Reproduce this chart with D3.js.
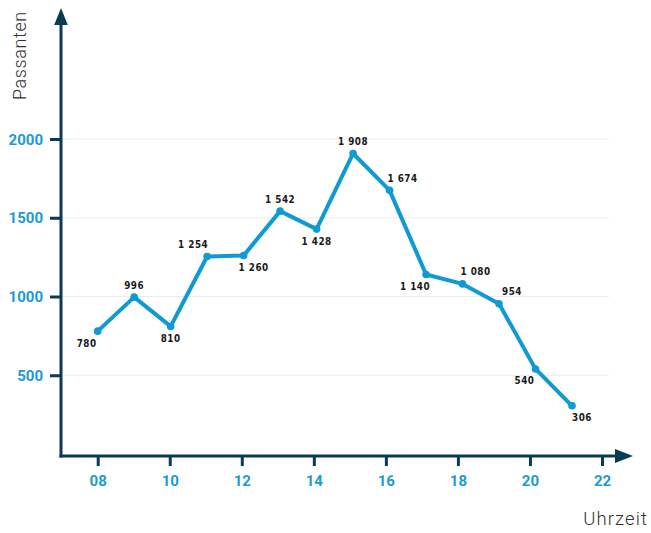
<!DOCTYPE html>
<html>
<head>
<meta charset="utf-8">
<script src="https://cdn.jsdelivr.net/npm/d3@7"></script>
<style>
  html, body { margin: 0; padding: 0; background: #fff; }
  svg { display: block; }
</style>
</head>
<body>
<div id="chart"></div>
<script>
// ---- data ----
const hours = [8, 9, 10, 11, 12, 13, 14, 15, 16, 17, 18, 19, 20, 21];
const passanten = [780, 996, 810, 1254, 1260, 1542, 1428, 1908, 1674, 1140, 1080, 954, 540, 306];
const labelPos = ["bl", "t", "b", "tl", "br", "t", "b", "t", "tr", "bl", "tr", "tr", "bl", "br"];
const xTicks = [8, 10, 12, 14, 16, 18, 20, 22];
const yTicks = [500, 1000, 1500, 2000];
const xTitle = "Uhrzeit";
const yTitle = "Passanten";

// ---- layout ----
const W = 651, H = 533;
const axisColor = "#0b3a55";
const blue = "#0f9ad3";
const svg = d3.select("#chart").append("svg").attr("width", W).attr("height", H);

const x = d3.scaleLinear().domain([8, 22]).range([97.7, 602]);
const xp = d3.scalePoint().domain(hours).range([97.7, 572]);
const y = d3.scaleLinear().domain([0, 2000]).range([454, 139]);

const axisX = 61, axisY = 456;

// grid
svg.append("g").selectAll("line").data(yTicks).join("line")
  .attr("x1", axisX).attr("x2", 609)
  .attr("y1", d => y(d)).attr("y2", d => y(d))
  .attr("stroke", "#ececec").attr("stroke-width", 1);

// y axis
const gy = svg.append("g").attr("transform", `translate(${axisX},0)`)
  .call(d3.axisLeft(y).tickValues(yTicks).tickSize(11).tickPadding(7).tickFormat(d3.format("d")));
gy.select(".domain").remove();
gy.selectAll(".tick line").attr("stroke", axisColor).attr("stroke-width", 3);
gy.selectAll(".tick text").attr("fill", "#1c9ad6").attr("font-family", "Roboto")
  .attr("font-weight", 700).attr("font-size", 15).attr("dy", "0.34em");

// x axis
const gx = svg.append("g").attr("transform", `translate(0,${axisY})`)
  .call(d3.axisBottom(x).tickValues(xTicks).tickSize(10).tickPadding(9).tickFormat(d => d3.format("02d")(d)));
gx.select(".domain").remove();
gx.selectAll(".tick line").attr("stroke", axisColor).attr("stroke-width", 3);
gx.selectAll(".tick text").attr("fill", "#1c9ad6").attr("font-family", "Roboto")
  .attr("font-weight", 700).attr("font-size", 15);

// axis lines with arrows
svg.append("line").attr("x1", axisX).attr("x2", axisX).attr("y1", 20).attr("y2", axisY + 1.5)
  .attr("stroke", axisColor).attr("stroke-width", 3);
svg.append("line").attr("x1", axisX - 1.5).attr("x2", 620).attr("y1", axisY).attr("y2", axisY)
  .attr("stroke", axisColor).attr("stroke-width", 3);
svg.append("path").attr("d", `M${axisX},8 L${axisX + 6.8},25 L${axisX - 6.8},25 Z`).attr("fill", axisColor);
svg.append("path").attr("d", `M633,${axisY} L615,${axisY - 7} L615,${axisY + 7} Z`).attr("fill", axisColor);

// titles
svg.append("text").attr("transform", "translate(26,100) rotate(-90)")
  .attr("font-family", "Roboto").attr("font-weight", 300).attr("font-size", 18)
  .attr("fill", "#333").attr("letter-spacing", 0.6).text(yTitle);
svg.append("text").attr("x", 648).attr("y", 525).attr("text-anchor", "end")
  .attr("font-family", "Roboto").attr("font-weight", 300).attr("font-size", 18.5)
  .attr("fill", "#333").attr("letter-spacing", 1.1).text(xTitle);

// line
const data = hours.map((h, i) => ({ h, v: passanten[i], p: labelPos[i] }));
svg.append("path").datum(data)
  .attr("d", d3.line().x(d => xp(d.h)).y(d => y(d.v)))
  .attr("fill", "none").attr("stroke", blue).attr("stroke-width", 4)
  .attr("stroke-linejoin", "round");
svg.append("g").selectAll("circle").data(data).join("circle")
  .attr("cx", d => xp(d.h)).attr("cy", d => y(d.v)).attr("r", 3.8).attr("fill", blue);

// value labels
const off = { t: [0, -12], b: [0, 12], tl: [-14, -12], tr: [13, -12], bl: [-11, 12], br: [10, 12] };
const fmt = v => v >= 1000 ? Math.floor(v / 1000) + " " + String(v % 1000).padStart(3, "0") : String(v);
svg.append("g").selectAll("text").data(data).join("text")
  .attr("x", d => xp(d.h) + off[d.p][0])
  .attr("y", d => y(d.v) + off[d.p][1])
  .attr("dy", "0.35em").attr("text-anchor", "middle")
  .attr("font-family", "DejaVu Sans Condensed, DejaVu Sans").attr("font-weight", 700)
  .attr("font-size", 9.8).attr("letter-spacing", 0.5).attr("fill", "#1a1a1a")
  .text(d => fmt(d.v));
</script>
</body>
</html>
